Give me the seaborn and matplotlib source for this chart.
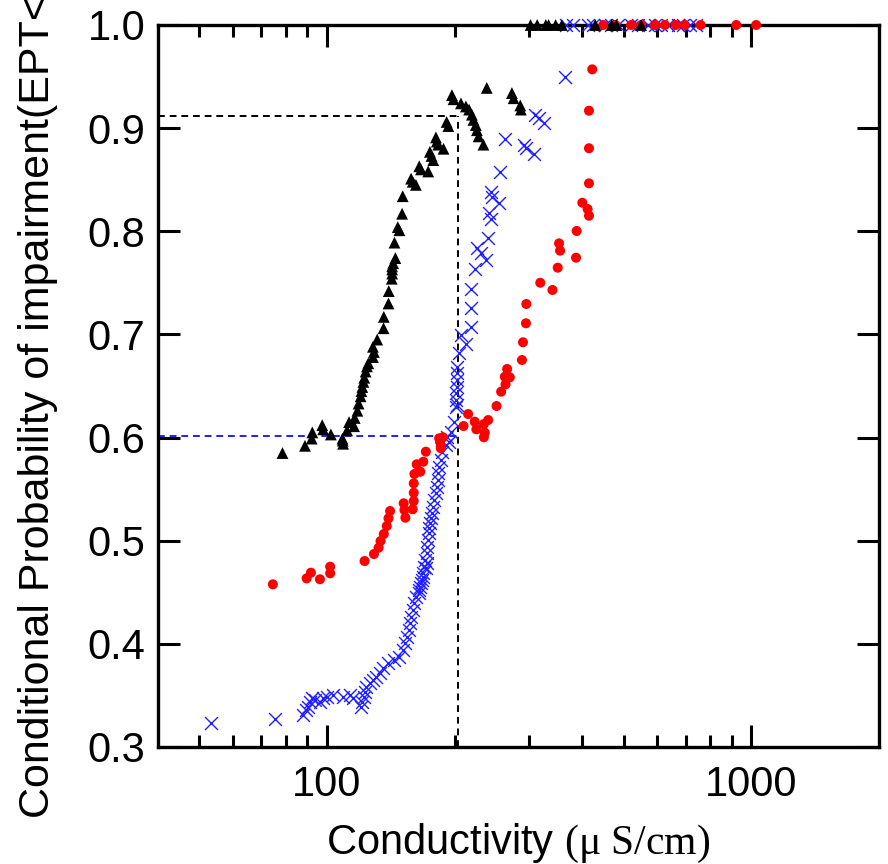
import matplotlib
matplotlib.use("Agg")
import matplotlib.pyplot as plt
import matplotlib.ticker as mticker
import seaborn as sns
import pandas as pd

# ---------------- data ----------------
ept_x = [78.6, 88.8, 92.1, 92.4, 97.5, 98.0, 102.2, 108.8, 109.2, 109.0, 111.6, 112.8,
         115.9, 116.3, 118.0, 118.8, 120.1, 120.6, 121.2, 121.9, 122.5, 123.4, 124.3,
         125.2, 128.4, 129.1, 128.4, 131.4, 136.0, 136.2, 139.7, 139.9, 142.2, 142.5,
         142.5, 142.5, 143.3, 145.0, 144.3, 148.2, 146.9, 150.4, 150.9, 157.9, 159.3,
         162.1, 165.1, 166.6, 173.3, 174.9, 176.4, 178.1, 180.7, 181.6, 183.0, 188.3,
         191.5, 193.3, 197.1, 198.8, 207.0, 212.6, 216.3, 219.6, 221.5, 224.4, 225.7,
         227.8, 233.8, 238.1, 272.9, 275.4, 285.6, 286.5,
         302, 313, 328, 333, 346, 358, 429, 469, 481, 550]
ept_y = [0.585, 0.592, 0.599, 0.605, 0.612, 0.608, 0.603, 0.599, 0.594, 0.597, 0.607, 0.615,
         0.611, 0.619, 0.626, 0.633, 0.640, 0.645, 0.649, 0.654, 0.658, 0.664, 0.669,
         0.672, 0.678, 0.683, 0.688, 0.695, 0.706, 0.717, 0.730, 0.742, 0.754, 0.759,
         0.763, 0.766, 0.769, 0.774, 0.789, 0.801, 0.804, 0.817, 0.834, 0.851, 0.848,
         0.845, 0.863, 0.860, 0.858, 0.877, 0.873, 0.869, 0.891, 0.887, 0.884, 0.880,
         0.906, 0.902, 0.932, 0.928, 0.924, 0.921, 0.918, 0.913, 0.908, 0.903, 0.898,
         0.892, 0.884, 0.939, 0.934, 0.929, 0.922, 0.918,
         1.0, 1.0, 1.0, 1.0, 1.0, 1.0, 1.0, 1.0, 1.0, 1.0]

blue_x = [53.2, 75.5, 88.0, 89.3, 90.4, 91.2, 92.1, 93.7, 96.3, 98.0, 99.8, 103.5, 109.2,
          113.2, 115.2, 120.6, 121.2, 122.1, 122.7, 123.9, 126.1, 128.4, 130.7, 133.1,
          135.5, 139.2, 144.2, 148.2, 150.9, 153.1, 154.2, 155.9, 157.1, 157.9, 159.3,
          160.8, 162.1, 164.5, 166.6, 168.7, 171.1, 172.5,
          164.5, 166.0, 167.5, 168.7, 169.6, 170.6, 171.8, 172.4, 173.1, 173.6, 174.3,
          175.0, 175.9, 176.8, 178.1, 179.0, 180.7, 181.3, 182.3, 183.2, 183.9, 185.6,
          187.2, 190.6, 194.1, 192.3, 195.9, 199.5, 203.0,
          201.5, 201.8, 202.0, 202.3, 202.5, 202.8, 203.0, 204.9, 213.1, 206.8, 218.2,
          218.2, 218.9, 223.0, 237.4, 230.3, 226.2, 239.9, 243.1, 240.9, 254.2, 245.2,
          243.1, 255.2, 307.0, 294.5, 290.9, 262.6, 324.0, 315.4, 309.8, 364.2,
          366.8, 380.9, 413.0, 424.3, 452.6, 467.5, 485.6, 520.8, 540.8, 570.7, 592.6,
          612.2, 635.8, 670.9, 689.2, 715.7, 739.3]
blue_y = [0.3235, 0.3268, 0.331, 0.3358, 0.339, 0.3439, 0.3472, 0.3455, 0.3439, 0.3472,
          0.3488, 0.3504, 0.3488, 0.3504, 0.3472, 0.339, 0.3439, 0.3488, 0.3536, 0.3584,
          0.3617, 0.365, 0.3681, 0.3714, 0.3763, 0.3811, 0.3843, 0.3875, 0.394, 0.4005,
          0.4069, 0.4134, 0.4199, 0.4263, 0.4328, 0.4393, 0.4457, 0.4522, 0.4587, 0.4651,
          0.4732, 0.4781,
          0.449, 0.4554, 0.4619, 0.4684, 0.4748, 0.4813, 0.4878, 0.4942, 0.5007, 0.5072,
          0.512, 0.5169, 0.5217, 0.5266, 0.533, 0.5395, 0.546, 0.5524, 0.5589, 0.5653,
          0.5718, 0.5782, 0.5863, 0.5928, 0.596, 0.6008, 0.6057, 0.6154, 0.6316,
          0.6299, 0.6364, 0.6429, 0.6493, 0.6558, 0.6623, 0.6687, 0.6817, 0.6907, 0.6994,
          0.7075, 0.7253, 0.7437, 0.7631, 0.7722, 0.7787, 0.7835, 0.7938, 0.8119, 0.8174,
          0.827, 0.8335, 0.8383, 0.8571, 0.8749, 0.8804, 0.8836, 0.8892, 0.9047, 0.9095,
          0.9127, 0.9499,
          1.0, 1.0, 1.0, 1.0, 1.0, 1.0, 1.0, 1.0, 1.0, 1.0, 1.0, 1.0, 1.0, 1.0, 1.0, 1.0, 1.0]

red_x = [74.6, 89.6, 91.7, 96.3, 101.8, 101.8, 122.7, 129.1, 132.4, 133.8, 136.2, 138.4,
         139.7, 140.9, 151.7, 152.3, 153.1, 159.3, 160.2, 160.2, 160.2, 160.8, 162.8,
         166.0, 168.7, 171.1, 184.7, 185.6, 187.7, 183.9, 185.6, 209.9, 215.2, 223.0,
         225.0, 234.4, 235.6, 234.4, 239.9, 251.1, 257.4, 263.6, 262.6, 269.8, 265.9,
         288.2, 289.8, 294.5, 295.1, 318.3, 340.1, 349.9, 354.4, 352.5, 386.5, 387.8,
         399.9, 411.5, 414.6, 414.6, 414.6, 414.6, 422.0,
         448, 478, 521, 550, 593, 626, 664, 697, 760, 922, 1027]
red_y = [0.4577, 0.4635, 0.469, 0.4626, 0.4748, 0.4684, 0.4803, 0.4871, 0.4932, 0.4997,
         0.5065, 0.5142, 0.5217, 0.5288, 0.5363, 0.5298, 0.5223, 0.5305, 0.5385, 0.5465,
         0.5556, 0.5647, 0.5741, 0.5669, 0.5766, 0.5863, 0.596, 0.5896, 0.6003, 0.5993,
         0.5911, 0.6112, 0.6228, 0.6154, 0.608, 0.6131, 0.6047, 0.6003, 0.617, 0.6306,
         0.6445, 0.6516, 0.659, 0.6584, 0.6665, 0.6752, 0.6924, 0.7108, 0.7295, 0.7501,
         0.7431, 0.7647, 0.7812, 0.7883, 0.7744, 0.8003, 0.8277, 0.8216, 0.8151, 0.8465,
         0.8805, 0.9169, 0.957,
         1.0, 1.0, 1.0, 1.0, 1.0, 1.0, 1.0, 1.0, 1.0, 1.0, 1.0]

threshold_x = 204.0
threshold_black_y = 0.912
threshold_blue_y = 0.602

xlim = (40, 2000)
ylim = (0.3, 1.0)
y_ticks = [0.3, 0.4, 0.5, 0.6, 0.7, 0.8, 0.9, 1.0]
y_ticklabels = ["0.3", "0.4", "0.5", "0.6", "0.7", "0.8", "0.9", "1.0"]
x_major = [100, 1000]
x_ticklabels = ["100", "1000"]
x_minor = [50, 60, 70, 80, 90, 200, 300, 400, 500, 600, 700, 800, 900]

ylabel_text = "Conditional Probability of impairment(EPT<"
xlabel_text = r"Conductivity $\mathrm{(\mu\ S/cm)}$"

# ---------------- style ----------------
sns.set_style("ticks")
plt.rcParams["font.family"] = ["Liberation Sans", "DejaVu Sans"]
plt.rcParams["mathtext.fontset"] = "custom"
plt.rcParams["mathtext.rm"] = "Liberation Serif"
plt.rcParams["mathtext.it"] = "Liberation Serif:italic"
plt.rcParams["text.color"] = "black"
plt.rcParams["axes.labelcolor"] = "black"

fig = plt.figure(figsize=(8.88, 8.64), dpi=100)
ax = fig.add_axes([158 / 888, 117 / 864, 721 / 888, 722 / 864])

df_b = pd.DataFrame({"x": ept_x, "y": ept_y})
df_x = pd.DataFrame({"x": blue_x, "y": blue_y})
df_r = pd.DataFrame({"x": red_x, "y": red_y})

sns.scatterplot(data=df_x, x="x", y="y", ax=ax, marker="x", s=85, color="#1f1fff",
                linewidth=1.0, clip_on=False, zorder=3)
sns.scatterplot(data=df_r, x="x", y="y", ax=ax, marker="o", s=52, color="#ff0000",
                edgecolor="none", clip_on=False, zorder=3)
sns.scatterplot(data=df_b, x="x", y="y", ax=ax, marker="^", s=72, color="black",
                edgecolor="none", clip_on=False, zorder=3)

ax.set_xscale("log")
ax.set_xlim(*xlim)
ax.set_ylim(*ylim)

dash = (0, (3.5, 2.5))
ax.plot([xlim[0], threshold_x], [threshold_black_y, threshold_black_y], color="black",
        lw=1.4, linestyle=dash, zorder=2)
ax.plot([threshold_x, threshold_x], [ylim[0], threshold_black_y], color="black",
        lw=1.4, linestyle=dash, zorder=2)
ax.plot([xlim[0], threshold_x], [threshold_blue_y, threshold_blue_y], color="#1f1fff",
        lw=1.4, linestyle=dash, zorder=2)

ax.xaxis.set_major_locator(mticker.FixedLocator(x_major))
ax.xaxis.set_major_formatter(mticker.FixedFormatter(x_ticklabels))
ax.xaxis.set_minor_locator(mticker.FixedLocator(x_minor))
ax.xaxis.set_minor_formatter(mticker.NullFormatter())
ax.yaxis.set_major_locator(mticker.FixedLocator(y_ticks))
ax.yaxis.set_major_formatter(mticker.FixedFormatter(y_ticklabels))

ax.tick_params(axis="both", which="major", direction="in", length=16, width=2.2,
               labelsize=30, top=True, right=True, color="black", labelcolor="black")
ax.tick_params(axis="both", which="minor", direction="in", length=8.5, width=2.2,
               top=True, right=True, color="black")
ax.tick_params(axis="y", which="major", pad=9)
ax.tick_params(axis="x", which="major", pad=13)

for sp in ax.spines.values():
    sp.set_visible(True)
    sp.set_linewidth(2.4)
    sp.set_color("black")

ax.set_xlabel(xlabel_text, fontsize=30, labelpad=12, color="black")
ax.set_ylabel(ylabel_text, fontsize=31, ha="left", va="center", color="black")
ax.yaxis.set_label_coords((38 - 158) / 721, (747 - 818) / 722)

fig.savefig("out.png", dpi=100)
